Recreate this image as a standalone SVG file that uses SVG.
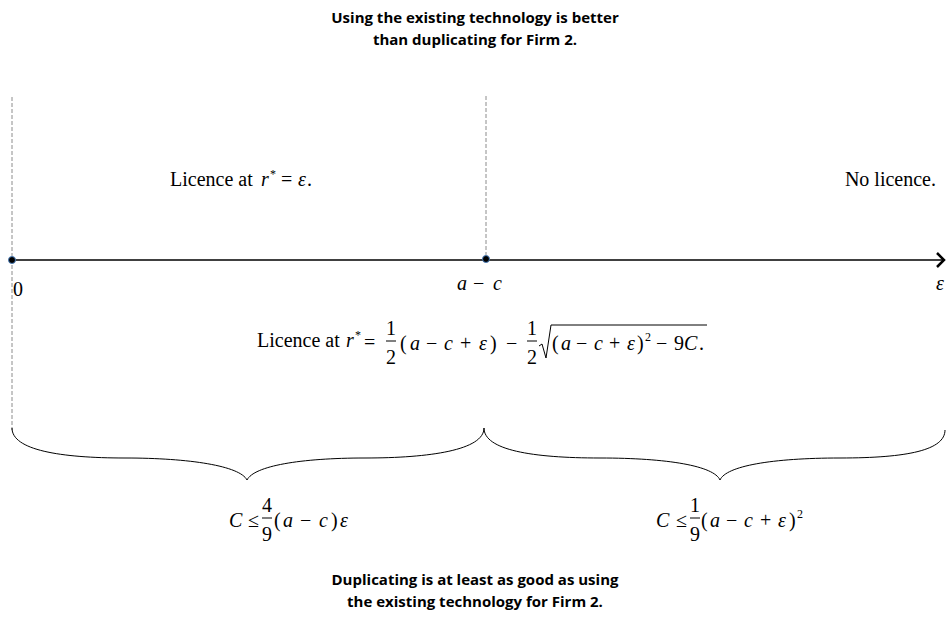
<svg xmlns="http://www.w3.org/2000/svg" width="947" height="620" viewBox="0 0 947 620">
<style>
.hd{font-family:"Open Sans","Liberation Sans",sans-serif;font-weight:700;font-size:15px;fill:#000;text-anchor:middle}
.m{font-family:"Liberation Serif","Times New Roman",serif;font-size:20px;fill:#000}
.i{font-style:italic}
.sup{font-size:12px}
.c{text-anchor:middle}
.dash{stroke:#8c8c8c;stroke-width:1;stroke-dasharray:4 2;fill:none}
.ln{stroke:#000;fill:none}
</style>
<rect width="947" height="620" fill="#fff"/>
<g id="connectors">
  <line class="dash" x1="12" y1="97" x2="12" y2="430"/>
  <line class="dash" x1="486" y1="96" x2="486" y2="256"/>
  <line class="ln" x1="12" y1="260" x2="943" y2="260" stroke-width="1.3"/>
  <polyline class="ln" points="937,253 944,260 937,267" stroke-width="2.5"/>
  <path class="ln" stroke-width="1" d="M12,428 C12,450 60,458 125,458 C190,458 240,466 247,480 C254,466 300,458 365,458 C430,458 484,450 484,428 C484,450 532,458 600,458 C668,458 714,466 720,480 C726,466 772,458 840,458 C908,458 945,450 945,430"/>
</g>
<g id="dot0"><circle cx="12" cy="260" r="3.5" fill="#000" stroke="#4a7ebb" stroke-width="1"/></g>
<g id="dotac"><circle cx="486" cy="259" r="3.5" fill="#000" stroke="#4a7ebb" stroke-width="1"/></g>
<g id="title">
  <text class="hd" x="475" y="23">Using the existing technology is better</text>
  <text class="hd" x="475" y="45">than duplicating for Firm 2.</text>
</g>
<g id="left-region">
  <text class="m" x="170" y="186">Licence at</text>
  <text class="m i" x="261" y="186">r</text>
  <text class="m sup" x="270" y="178">*</text>
  <text class="m" x="281" y="186">=</text>
  <text class="m i" x="298" y="186">ε</text>
  <text class="m" x="307" y="186">.</text>
</g>
<g id="right-region">
  <text class="m" x="936" y="186" text-anchor="end">No licence.</text>
</g>
<g id="labels">
  <text class="m" x="13" y="296">0</text>
  <text class="m" y="290"><tspan class="i" x="457">a</tspan><tspan x="473">−</tspan><tspan class="i" x="493">c</tspan></text>
  <text class="m i" x="936" y="290">ε</text>
</g>
<g id="middle-formula">
  <text class="m" x="257" y="347">Licence at</text>
  <text class="m i" x="346" y="347">r</text>
  <text class="m sup" x="355" y="339">*</text>
  <text class="m" x="364" y="349">=</text>
  <text class="m c" x="391" y="335">1</text>
  <line class="ln" x1="386" y1="341" x2="396" y2="341" stroke-width="1"/>
  <text class="m c" x="391" y="364">2</text>
  <text class="m" y="350"><tspan x="400">(</tspan><tspan class="i" x="410">a</tspan><tspan x="426">−</tspan><tspan class="i" x="444">c</tspan><tspan x="460">+</tspan><tspan class="i" x="479">ε</tspan><tspan x="490">)</tspan></text>
  <text class="m" x="506" y="350">−</text>
  <text class="m c" x="532" y="335">1</text>
  <line class="ln" x1="527" y1="341" x2="537" y2="341" stroke-width="1"/>
  <text class="m c" x="532" y="364">2</text>
  <path class="ln" stroke-width="1" d="M539,346 L542,344 L546,358 L551,325 L707,325"/>
  <text class="m" y="350"><tspan x="552">(</tspan><tspan class="i" x="561">a</tspan><tspan x="576">−</tspan><tspan class="i" x="594">c</tspan><tspan x="609">+</tspan><tspan class="i" x="627">ε</tspan><tspan x="637">)</tspan></text>
  <text class="m sup" x="645" y="341">2</text>
  <text class="m" x="656" y="350">−</text>
  <text class="m" x="674" y="350">9</text>
  <text class="m i" x="684" y="350">C</text>
  <text class="m" x="699" y="350">.</text>
</g>
<g id="cond-left">
  <text class="m i" x="229" y="527">C</text>
  <text class="m" x="248" y="527">≤</text>
  <text class="m c" x="267" y="512">4</text>
  <line class="ln" x1="262" y1="518" x2="272" y2="518" stroke-width="1"/>
  <text class="m c" x="267" y="541">9</text>
  <text class="m" y="527"><tspan x="274">(</tspan><tspan class="i" x="283">a</tspan><tspan x="300">−</tspan><tspan class="i" x="319">c</tspan><tspan x="331">)</tspan><tspan class="i" x="340">ε</tspan></text>
</g>
<g id="cond-right">
  <text class="m i" x="656" y="527">C</text>
  <text class="m" x="676" y="527">≤</text>
  <text class="m c" x="695" y="512">1</text>
  <line class="ln" x1="690" y1="518" x2="700" y2="518" stroke-width="1"/>
  <text class="m c" x="695" y="541">9</text>
  <text class="m" y="527"><tspan x="701">(</tspan><tspan class="i" x="710">a</tspan><tspan x="726">−</tspan><tspan class="i" x="744">c</tspan><tspan x="760">+</tspan><tspan class="i" x="778">ε</tspan><tspan x="789">)</tspan></text>
  <text class="m sup" x="797" y="518">2</text>
</g>
<g id="footer">
  <text class="hd" x="475" y="585">Duplicating is at least as good as using</text>
  <text class="hd" x="475" y="607">the existing technology for Firm 2.</text>
</g>
</svg>
